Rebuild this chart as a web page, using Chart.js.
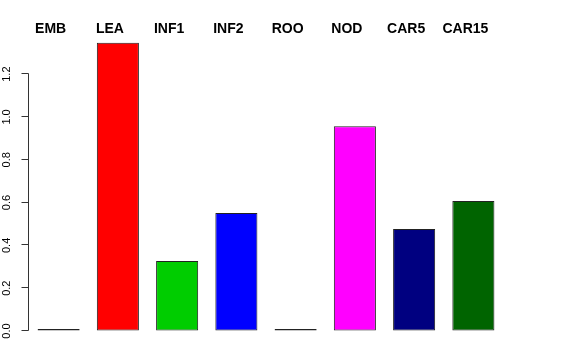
<!DOCTYPE html>
<html>
<head>
<meta charset="utf-8">
<script src="https://cdn.jsdelivr.net/npm/chart.js@4/dist/chart.umd.min.js"></script>
<style>
html,body{margin:0;padding:0;background:#fff;}
#wrap{width:576px;height:360px;}
</style>
</head>
<body>
<div id="wrap"><canvas id="c" width="576" height="360"></canvas></div>
<script>
const categories = ["EMB", "LEA", "INF1", "INF2", "ROO", "NOD", "CAR5", "CAR15"];
const values = [0, 1.347, 0.327, 0.551, 0, 0.957, 0.476, 0.607];
const barColors = ["#444444", "#FF0000", "#00CD00", "#0000FF", "#444444", "#FF00FF", "#000080", "#006400"];
const yTickValues = [0, 0.2, 0.4, 0.6, 0.8, 1.0, 1.2];

const axisLinePlugin = {
  id: 'axisLine',
  afterDraw(chart) {
    const y = chart.scales.y;
    const ctx = chart.ctx;
    const x = Math.round(y.right) - 0.5;
    ctx.save();
    ctx.strokeStyle = '#333';
    ctx.lineWidth = 1;
    ctx.beginPath();
    ctx.moveTo(x, Math.round(y.getPixelForValue(yTickValues[0])) - 0.5);
    ctx.lineTo(x, Math.round(y.getPixelForValue(yTickValues[yTickValues.length - 1])) - 0.5);
    ctx.stroke();
    for (const v of yTickValues) {
      const py = Math.round(y.getPixelForValue(v)) - 0.5;
      ctx.beginPath();
      ctx.moveTo(x, py);
      ctx.lineTo(x - 7, py);
      ctx.stroke();
    }
    ctx.restore();
  }
};

new Chart(document.getElementById('c'), {
  type: 'bar',
  data: {
    labels: categories,
    datasets: [{
      data: values,
      backgroundColor: barColors,
      borderColor: '#222',
      borderWidth: 1,
      borderSkipped: false,
      minBarLength: 2,
      categoryPercentage: 1.0,
      barPercentage: 0.71
    }]
  },
  options: {
    responsive: false,
    animation: false,
    devicePixelRatio: 1,
    layout: { padding: { left: 0, top: 0, right: 73, bottom: 29 } },
    plugins: { legend: { display: false }, tooltip: { enabled: false } },
    scales: {
      x: {
        position: 'top',
        grid: { display: false, drawTicks: false },
        border: { display: false },
        ticks: {
          color: '#000',
          font: { family: 'Liberation Sans', size: 14, weight: 'bold' },
          padding: 4,
          labelOffset: -8,
          maxRotation: 0,
          minRotation: 0,
          autoSkip: false
        },
        afterFit(scale) { scale.height = 42; }
      },
      y: {
        min: 0,
        max: 1.35,
        grid: { display: true, drawOnChartArea: false, drawTicks: true, tickLength: 7, color: 'rgba(0,0,0,0)' },
        border: { display: false },
        afterBuildTicks(scale) {
          scale.ticks = yTickValues.map(v => ({ value: v }));
        },
        ticks: {
          color: '#000',
          font: { family: 'Liberation Sans', size: 11 },
          padding: 7,
          minRotation: 90,
          maxRotation: 90,
          crossAlign: 'center',
          autoSkip: false,
          callback: (v) => Number(v).toFixed(1)
        },
        afterFit(scale) { scale.width = 29; }
      }
    }
  },
  plugins: [axisLinePlugin]
});
</script>
</body>
</html>
